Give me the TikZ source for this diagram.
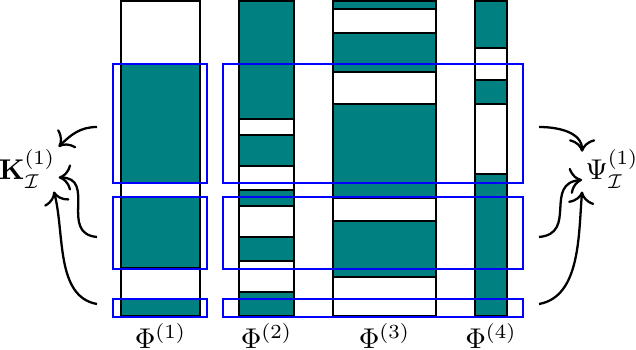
\documentclass[tikz,border=0pt]{standalone}
\usepackage{amsmath}
\usepackage{amssymb}
\usetikzlibrary{arrows.meta, positioning}

\begin{document}
\begin{tikzpicture}[
  x=0.35pt, y=-0.35pt,
  seg/.style={draw=black, fill=teal, line width=0.4pt},
  col/.style={draw=black, line width=0.75pt},
  grp/.style={draw=blue, line width=0.45pt},
  lbl/.style={inner sep=1pt},
  arr/.style={-{To[scale=1.3]}, line width=0.8pt}
]
\useasboundingbox (0,0) rectangle (636,350);

\draw[seg] (121,64) rectangle (200,183) (121,197) rectangle (200,268) (121,299) rectangle (200,316);
\draw[seg] (239,1) rectangle (294,119) (239,135) rectangle (294,166) (239,190) rectangle (294,206)
  (239,237) rectangle (294,261) (239,292) rectangle (294,316);
\draw[seg] (333,1) rectangle (436,9) (333,33) rectangle (436,72) (333,104) rectangle (436,198)
  (333,221) rectangle (436,277);
\draw[seg] (475,1) rectangle (507,48) (475,80) rectangle (507,104) (475,174) rectangle (507,316);

\draw[col] (121,1) rectangle (200,316);
\draw[col] (239,1) rectangle (294,316);
\draw[col] (333,1) rectangle (436,316);
\draw[col] (475,1) rectangle (507,316);

\draw[grp] (113,64) rectangle (207,183) (113,197) rectangle (207,269) (113,299) rectangle (207,317);
\draw[grp] (223,64) rectangle (523,183) (223,197) rectangle (523,269) (223,299) rectangle (523,317);

\coordinate (c1) at (160.5,316);
\coordinate (c2) at (266.5,316);
\coordinate (c3) at (384.5,316);
\coordinate (c4) at (491,316);
\node[below=-1pt of c1] (phi1) {$\Phi^{(1)}$};
\node[below=-1pt of c2] (phi2) {$\Phi^{(2)}$};
\node[below=-1pt of c3] (phi3) {$\Phi^{(3)}$};
\node[below=-1pt of c4] (phi4) {$\Phi^{(4)}$};

\node[lbl] (K) at (27,169) {$\mathbf{K}_{\mathcal{I}}^{(1)}$};
\node[lbl] (Psi) at (612,169) {$\Psi_{\mathcal{I}}^{(1)}$};

\coordinate (l1) at (97,127);
\coordinate (l2) at (97,237);
\coordinate (l3) at (97,304);
\coordinate (r1) at (539,127);
\coordinate (r2) at (539,237);
\coordinate (r3) at (539,304);

\draw[arr] (l1) to[out=180, in=45] (K.35);
\draw[arr] (l2) to[out=175, in=0, looseness=1.4] (K.-15);
\draw[arr] (l3) to[out=170, in=-75, looseness=0.9] (K.-40);
\draw[arr] (r1) to[out=0, in=90] (Psi.150);
\draw[arr] (r2) to[out=5, in=185, looseness=1.4] (Psi.200);
\draw[arr] (r3) to[out=10, in=-95, looseness=0.9] (Psi.south west);
\end{tikzpicture}
\end{document}
